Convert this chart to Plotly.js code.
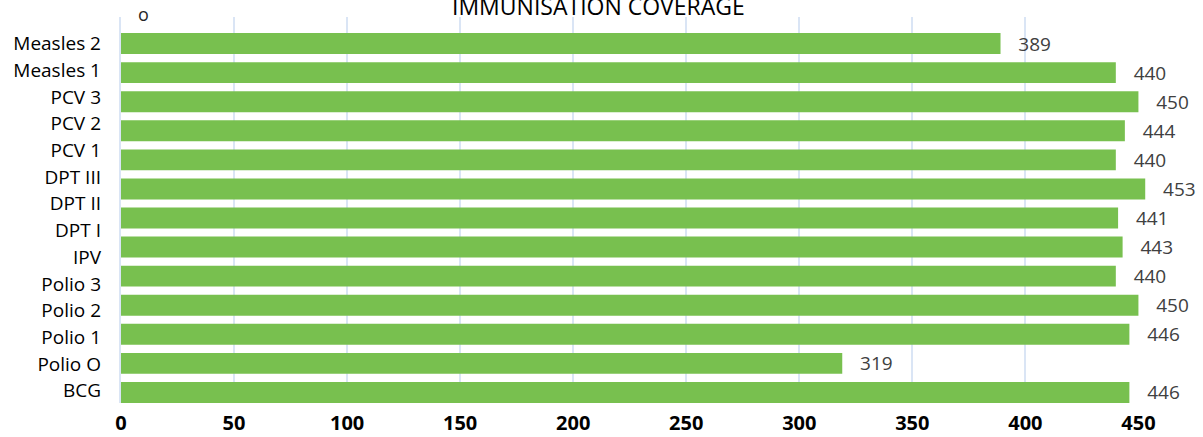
<!DOCTYPE html>
<html>
<head>
<meta charset="utf-8">
<script src="https://cdn.plot.ly/plotly-3.0.1.min.js"></script>
<style>html,body{margin:0;padding:0;background:#fff;}#chart{width:1203px;height:437px;}</style>
</head>
<body>
<div id="chart"></div>
<script>
// Category labels, top to bottom (drawn on their own axis, as in the reference)
const labels = ["Measles 2", "Measles 1", "PCV 3", "PCV 2", "PCV 1", "DPT III", "DPT II", "DPT I", "IPV", "Polio 3", "Polio 2", "Polio 1", "Polio O", "BCG"];
// Bar values, top to bottom (13 bars in the reference)
const values = [389, 440, 450, 444, 440, 453, 441, 443, 440, 450, 446, 319, 446];
const xTicks = [0, 50, 100, 150, 200, 250, 300, 350, 400, 450];
const gridTicks = [0, 50, 100, 150, 200, 250, 300, 350, 400];
const chartTitle = "IMMUNISATION COVERAGE";
const cornerMark = "o";

const barPos = values.map((_, i) => values.length - 1 - i);
const labelPos = labels.map((_, i) => labels.length - 1 - i);

const FONT = "Open Sans, Noto Sans, sans-serif";
const GRID = "#dae5f5";
const XRANGE = [0, 456];

const data = [
  {
    type: "bar",
    orientation: "h",
    x: values,
    y: barPos,
    width: 0.72,
    marker: {color: "#78c04f"},
    texttemplate: "\u00a0\u00a0\u00a0%{x}",
    textposition: "outside",
    constraintext: "none",
    cliponaxis: false,
    textfont: {family: FONT, size: 19, color: "#404040"},
    hoverinfo: "skip"
  },
  {
    type: "scatter",
    x: [],
    y: [],
    xaxis: "x2",
    yaxis: "y2",
    hoverinfo: "skip",
    showlegend: false
  }
];

const layout = {
  width: 1203,
  height: 437,
  margin: {l: 121, r: 51, t: 17, b: 34},
  paper_bgcolor: "#ffffff",
  plot_bgcolor: "#ffffff",
  showlegend: false,
  font: {family: FONT, color: "#000000"},
  xaxis: {
    range: XRANGE,
    tickvals: gridTicks,
    showticklabels: false,
    showgrid: true,
    gridcolor: GRID,
    gridwidth: 2,
    zeroline: false,
    showline: false,
    ticks: ""
  },
  xaxis2: {
    overlaying: "x",
    side: "bottom",
    anchor: "y2",
    range: XRANGE,
    tickvals: xTicks,
    ticktext: xTicks.map(String),
    showgrid: false,
    zeroline: false,
    showline: false,
    ticks: "",
    ticklabelstandoff: 6,
    tickfont: {family: FONT, size: 20, color: "#000000", weight: "bold"}
  },
  yaxis: {
    range: [-0.364, 12.914],
    showticklabels: false,
    showgrid: false,
    zeroline: false,
    showline: true,
    linecolor: GRID,
    linewidth: 2,
    ticks: ""
  },
  yaxis2: {
    overlaying: "y",
    side: "left",
    anchor: "x2",
    range: [-0.46, 13.994],
    tickvals: labelPos,
    ticktext: labels,
    showgrid: false,
    zeroline: false,
    showline: false,
    ticks: "",
    ticklabelstandoff: 19,
    tickfont: {family: FONT, size: 19, color: "#000000"}
  },
  annotations: [
    {
      text: chartTitle,
      xref: "paper", yref: "paper",
      x: 0.463, y: 1,
      xanchor: "center", yanchor: "bottom",
      yshift: -7,
      showarrow: false,
      font: {family: FONT, size: 23, color: "#000000"}
    },
    {
      text: cornerMark,
      xref: "paper", yref: "paper",
      x: 0.0216, y: 1,
      xanchor: "center", yanchor: "middle",
      yshift: 3,
      showarrow: false,
      font: {family: FONT, size: 18, color: "#262626"}
    }
  ]
};

Plotly.newPlot("chart", data, layout, {displayModeBar: false, staticPlot: true});
</script>
</body>
</html>
